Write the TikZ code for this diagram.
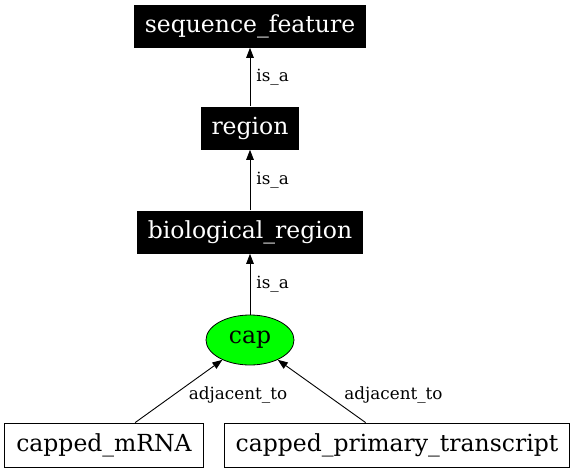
\documentclass[tikz,border=0pt]{standalone}
\usepackage{fontspec}
\setmainfont{DejaVu Serif}
\usetikzlibrary{arrows.meta,positioning,shapes.geometric}
\begin{document}
\begin{tikzpicture}[node distance=104pt,semithick]
	  \tikzstyle{term}=[rectangle,fill=black,text=white,font=\fontsize{23.5}{26}\selectfont,minimum height=43pt,inner xsep=11pt]
	  \tikzstyle{focus}=[ellipse,draw=black,fill=green,line width=0.8pt,font=\fontsize{23.5}{26}\selectfont,minimum width=88pt,minimum height=50pt,inner sep=0pt]
	  \tikzstyle{other}=[rectangle,draw=black,fill=white,line width=0.8pt,font=\fontsize{23.5}{26}\selectfont,minimum height=44pt,inner xsep=11.5pt]
	  \tikzstyle{rel}=[font=\fontsize{16.8}{19}\selectfont,inner sep=0pt]
	  \tikzstyle{link}=[-{Triangle[length=10pt,width=7.5pt]},line width=0.9pt]

	  \useasboundingbox (0,0) rectangle (576pt,-474pt);

	  \node[term] (SF) at (250pt,-26pt) {sequence\_feature};
	  \node[term] (R) [below of=SF, node distance=102pt] {region};
	  \node[term] (BR) [below of=R] {biological\_region};
	  \node[focus] (C) [below of=BR, node distance=108pt] {cap};
	  \node[other] (M) at (104pt,-445pt) {capped\_mRNA};
	  \node[other] (P) at (397pt,-445pt) {capped\_primary\_transcript};

	  \path (R) edge[link] node[rel,right=6pt] {is\_a} (SF)
	  (BR) edge[link] node[rel,right=6pt] {is\_a} (R)
	  (C) edge[link] node[rel,right=6pt] {is\_a} (BR)
	  (M) edge[link] node[rel,right=15pt,pos=.44] {adjacent\_to} (C)
	  (P) edge[link] node[rel,right=17pt,pos=.44] {adjacent\_to} (C);
	\end{tikzpicture}
\end{document}
